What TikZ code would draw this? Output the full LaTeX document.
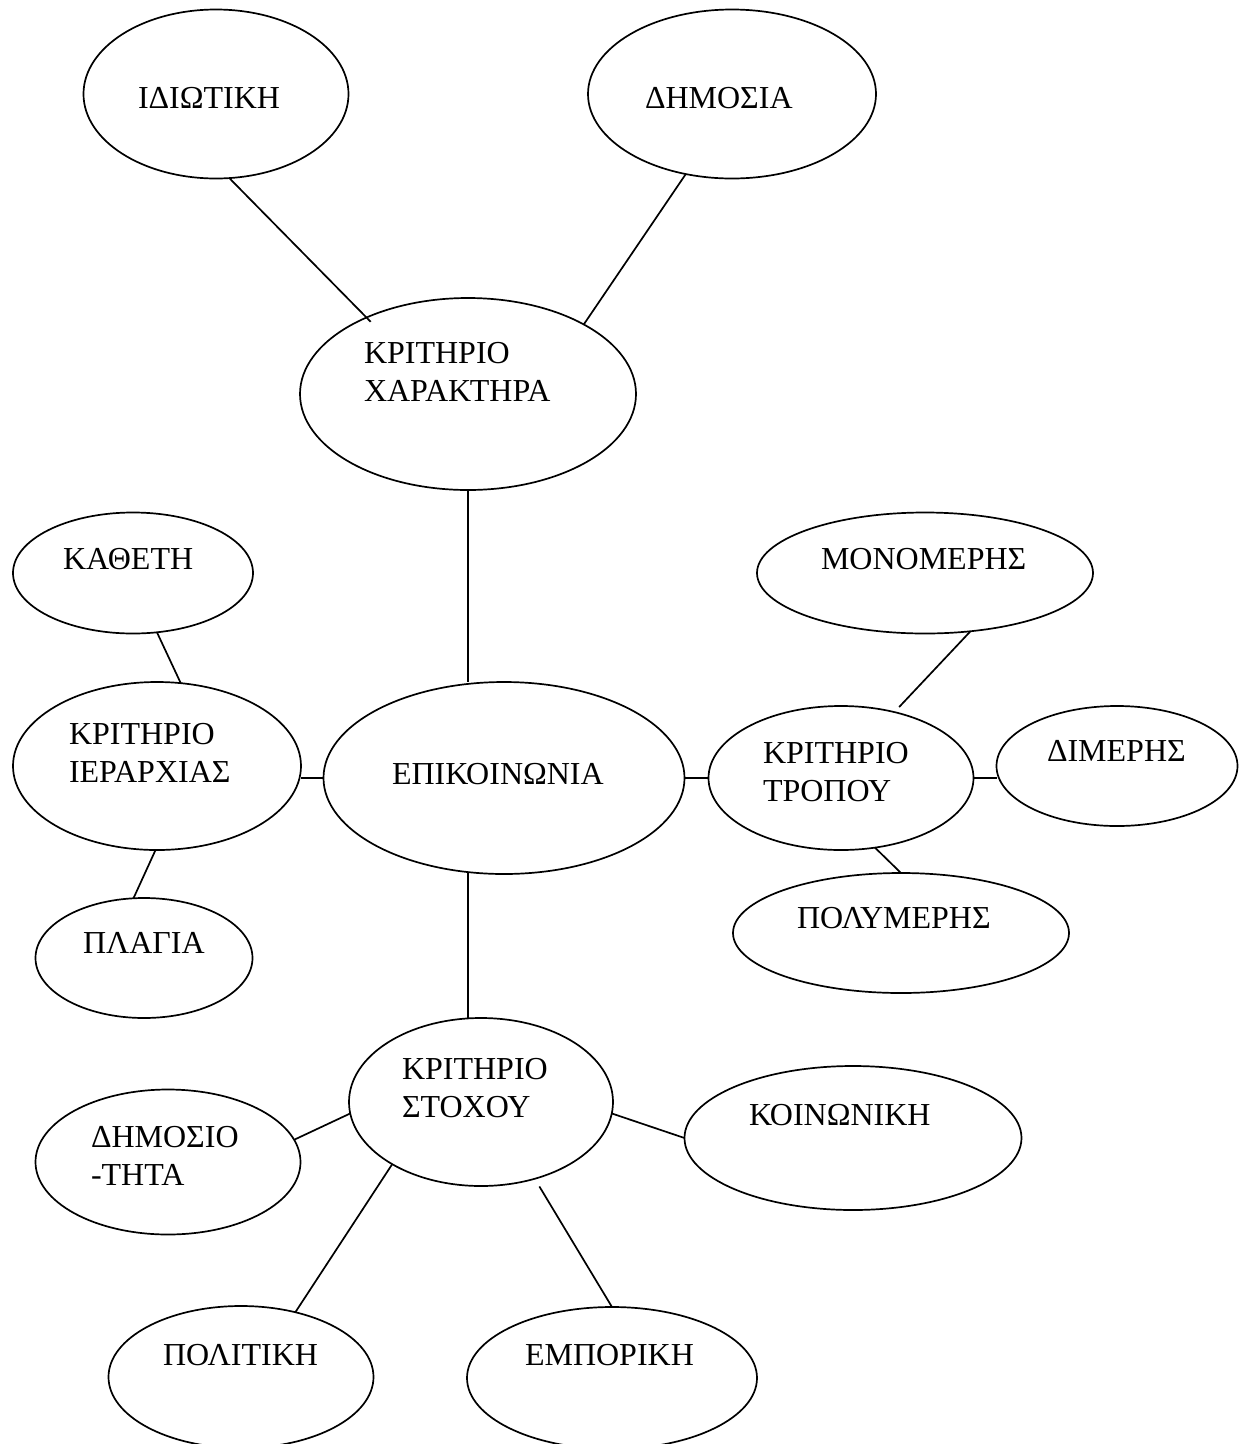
\documentclass[tikz,border=0pt]{standalone}
\usepackage{fontspec}
\setmainfont{Liberation Serif}
\usetikzlibrary{shapes.geometric}

\tikzset{
  oval/.style={ellipse, draw, line width=1.7pt, inner sep=0pt, outer sep=0pt},
  lbl/.style={anchor=base west, inner sep=0pt, outer sep=0pt,
              font=\fontsize{32}{38}\selectfont},
  link/.style={line width=1.7pt}
}

\begin{document}
\begin{tikzpicture}[x=1pt, y=-1pt]
  \useasboundingbox (0,0) rectangle (1239,1444);
  \clip (0,0) rectangle (1239,1444);

  % ---- ellipses ----
  \node[oval, minimum width=265, minimum height=169] (idiot)  at (216,94)   {};
  \node[oval, minimum width=288, minimum height=169] (dimos)  at (732,94)   {};
  \node[oval, minimum width=336, minimum height=192] (xar)    at (468,394)  {};
  \node[oval, minimum width=240, minimum height=121] (kath)   at (133,573)  {};
  \node[oval, minimum width=288, minimum height=168] (ier)    at (157,766)  {};
  \node[oval, minimum width=361, minimum height=192] (epik)   at (504,778)  {};
  \node[oval, minimum width=336, minimum height=121] (monom)  at (925,573)  {};
  \node[oval, minimum width=265, minimum height=144] (trop)   at (841,778)  {};
  \node[oval, minimum width=241, minimum height=120] (dimer)  at (1117,766) {};
  \node[oval, minimum width=336, minimum height=120] (polym)  at (901,933)  {};
  \node[oval, minimum width=217, minimum height=120] (plag)   at (144,958)  {};
  \node[oval, minimum width=264, minimum height=168] (stox)   at (481,1102) {};
  \node[oval, minimum width=265, minimum height=145] (dmsio)  at (168,1162) {};
  \node[oval, minimum width=337, minimum height=144] (koin)   at (853,1138) {};
  \node[oval, minimum width=265, minimum height=142] (polit)  at (241,1377) {};
  \node[oval, minimum width=290, minimum height=142] (empor)  at (612,1378) {};

  % ---- texts ----
  \node[lbl] (t-idiot)  at (138,108)  {ΙΔΙΩΤΙΚΗ};
  \node[lbl] (t-dimos)  at (645,108)  {ΔΗΜΟΣΙΑ};
  \node[lbl] (t-xar1)   at (364,363)  {ΚΡΙΤΗΡΙΟ};
  \node[lbl] (t-xar2)   at (364,401)  {ΧΑΡΑΚΤΗΡΑ};
  \node[lbl] (t-kath)   at (63,569)   {ΚΑΘΕΤΗ};
  \node[lbl] (t-ier1)   at (69,744)   {ΚΡΙΤΗΡΙΟ};
  \node[lbl] (t-ier2)   at (69,782)   {ΙΕΡΑΡΧΙΑΣ};
  \node[lbl] (t-epik)   at (392,784)  {ΕΠΙΚΟΙΝΩΝΙΑ};
  \node[lbl] (t-monom)  at (821,569)  {ΜΟΝΟΜΕΡΗΣ};
  \node[lbl] (t-trop1)  at (763,763)  {ΚΡΙΤΗΡΙΟ};
  \node[lbl] (t-trop2)  at (763,801)  {ΤΡΟΠΟΥ};
  \node[lbl] (t-dimer)  at (1047,761) {ΔΙΜΕΡΗΣ};
  \node[lbl] (t-polym)  at (797,928)  {ΠΟΛΥΜΕΡΗΣ};
  \node[lbl] (t-plag)   at (83,953)   {ΠΛΑΓΙΑ};
  \node[lbl] (t-stox1)  at (402,1079) {ΚΡΙΤΗΡΙΟ};
  \node[lbl] (t-stox2)  at (402,1117) {ΣΤΟΧΟΥ};
  \node[lbl] (t-dmsio1) at (91,1147)  {ΔΗΜΟΣΙΟ};
  \node[lbl] (t-dmsio2) at (91,1185)  {-ΤΗΤΑ};
  \node[lbl] (t-koin)   at (749,1125) {ΚΟΙΝΩΝΙΚΗ};
  \node[lbl] (t-polit)  at (163,1365) {ΠΟΛΙΤΙΚΗ};
  \node[lbl] (t-empor)  at (525,1365) {ΕΜΠΟΡΙΚΗ};

  % ---- connectors ----
  \draw[link, shorten >=-6pt] (idiot.-81) -- (xar.143);
  \draw[link] (dimos.-120) -- (xar.31);
  \draw[link] (xar.south) -- (xar.south |- epik.north);

  \draw[link] (kath.-68) -- (ier.74);
  \draw[link] (epik.west) -- (epik.west -| ier.east);
  \draw[link] (ier.-91) -- (plag.100);

  \draw[link] (epik.east) -- (trop.west);
  \draw[link, shorten >=7pt] (monom.-52) -- (trop.51);
  \draw[link] (trop.east) -- (trop.east -| dimer.west);
  \draw[link] (trop.-64) -- (polym.north);

  \draw[link] (epik.-111) -- (epik.-111 |- stox.north);
  \draw[link] (stox.-175) -- (dmsio.10);
  \draw[link] (stox.-5) -- (koin.west);
  \draw[link] (stox.-145) -- (polit.50);
  \draw[link, shorten <=9pt] (stox.-55) -- (empor.north);
\end{tikzpicture}
\end{document}
